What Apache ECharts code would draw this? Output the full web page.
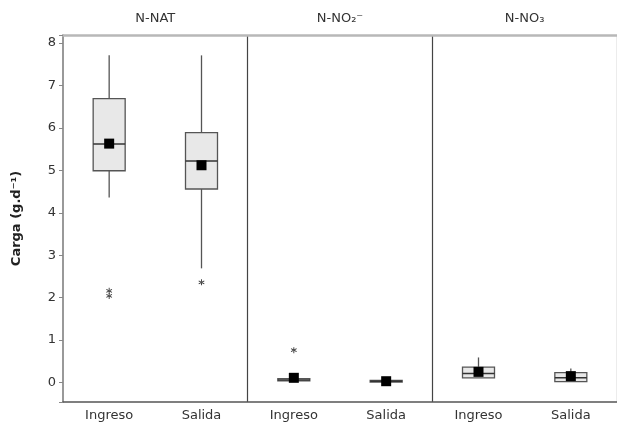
<!DOCTYPE html>
<html>
<head>
<meta charset="utf-8">
<script src="https://cdn.jsdelivr.net/npm/echarts@6/dist/echarts.min.js"></script>
<style>html,body{margin:0;padding:0;background:#fff}#c{width:617px;height:430px}</style>
</head>
<body>
<div id="c"></div>
<script>
// ---- data ----
var categories = ['Ingreso', 'Salida', 'Ingreso', 'Salida', 'Ingreso', 'Salida'];
var panels = ['N-NAT', 'N-NO\u2082\u207B', 'N-NO\u2083'];
var whiskerLow  = [4.36, 2.69, 0.02, 0.00, 0.11, 0.02];
var q1          = [4.99, 4.56, 0.04, 0.01, 0.11, 0.02];
var median      = [5.62, 5.22, 0.06, 0.03, 0.21, 0.11];
var q3          = [6.69, 5.89, 0.09, 0.05, 0.36, 0.23];
var whiskerHigh = [7.71, 7.71, 0.12, 0.07, 0.59, 0.33];
var means       = [5.63, 5.12, 0.11, 0.03, 0.25, 0.15];
var outlierCat  = [0, 0, 1, 2];
var outlierVal  = [2.04, 2.16, 2.36, 0.76];
var yTicks      = [0, 1, 2, 3, 4, 5, 6, 7, 8];

// ---- build ----
var boxData = categories.map(function (c, i) {
  return [i, whiskerLow[i], q1[i], median[i], q3[i], whiskerHigh[i]];
});
var meanData = categories.map(function (c, i) { return [i, means[i]]; });
var outData = outlierCat.map(function (c, i) { return [c, outlierVal[i]]; });

var asterisk = 'path://M4.3,0H5.7V10H4.3Z M1.02,1.89L9.68,6.89L8.98,8.11L0.32,3.11Z M1.02,8.11L9.68,3.11L8.98,1.89L0.32,6.89Z';
var font = 'DejaVu Sans';

var chart = echarts.init(document.getElementById('c'), null, {renderer: 'canvas'});
chart.setOption({
  animation: false,
  backgroundColor: '#fff',
  grid: {left: 63, right: -2, top: 35, bottom: 28},
  xAxis: [{
    type: 'category',
    data: categories,
    boundaryGap: true,
    position: 'bottom',
    axisLine: {onZero: false, lineStyle: {color: '#555', width: 1.5}},
    axisTick: {alignWithLabel: true, length: 4, lineStyle: {color: '#777'}},
    axisLabel: {color: '#333', fontFamily: font, fontSize: 13, margin: 7},
    splitLine: {
      show: true,
      interval: function (idx) { return idx === 2 || idx === 4; },
      lineStyle: {color: '#444', width: 1.2}
    }
  }, {
    type: 'category',
    data: panels,
    position: 'top',
    axisLine: {onZero: false, lineStyle: {color: '#b8b8b8', width: 2.5}},
    axisTick: {show: false},
    axisLabel: {color: '#333', fontFamily: font, fontSize: 13, margin: 10},
    splitLine: {show: false}
  }],
  yAxis: {
    type: 'value',
    min: -0.46,
    max: 8.19,
    splitNumber: 8,
    minInterval: 1,
    maxInterval: 1,
    name: 'Carga (g.d\u207B\u00B9)',
    nameLocation: 'middle',
    nameRotate: 90,
    nameGap: 40,
    nameTextStyle: {color: '#222', fontFamily: font, fontSize: 13, fontWeight: 'bold'},
    axisLine: {show: true, onZero: false, lineStyle: {color: '#777', width: 1.5}},
    axisTick: {show: true, length: 4, lineStyle: {color: '#888'}},
    axisLabel: {
      color: '#333', fontFamily: font, fontSize: 13, margin: 7,
      formatter: function (v) { return yTicks.indexOf(v) >= 0 ? String(v) : ''; }
    },
    splitLine: {show: false}
  },
  series: [{
    type: 'custom',
    xAxisIndex: 0,
    data: boxData,
    encode: {x: 0, y: [1, 2, 3, 4, 5]},
    renderItem: function (params, api) {
      var x = api.value(0);
      var pLo = api.coord([x, api.value(1)]);
      var pQ1 = api.coord([x, api.value(2)]);
      var pMed = api.coord([x, api.value(3)]);
      var pQ3 = api.coord([x, api.value(4)]);
      var pHi = api.coord([x, api.value(5)]);
      var hw = 16;
      var cx = pQ1[0];
      var st = {stroke: '#555', lineWidth: 1.3, fill: null};
      return {
        type: 'group',
        children: [
          {type: 'line', shape: {x1: cx, y1: pHi[1], x2: cx, y2: pQ3[1]}, style: st},
          {type: 'line', shape: {x1: cx, y1: pQ1[1], x2: cx, y2: pLo[1]}, style: st},
          {type: 'rect', shape: {x: cx - hw, y: pQ3[1], width: 2 * hw, height: Math.max(pQ1[1] - pQ3[1], 1)},
            style: {fill: '#e8e8e8', stroke: '#555', lineWidth: 1.3}},
          {type: 'line', shape: {x1: cx - hw, y1: pMed[1], x2: cx + hw, y2: pMed[1]}, style: {stroke: '#333', lineWidth: 1.5}}
        ]
      };
    }
  }, {
    type: 'scatter',
    data: meanData,
    symbol: 'rect',
    symbolSize: 10,
    itemStyle: {color: '#000', opacity: 1},
    z: 5
  }, {
    type: 'scatter',
    data: outData,
    symbol: asterisk,
    symbolSize: 6,
    itemStyle: {color: '#333', opacity: 1},
    z: 5
  }]
});
</script>
</body>
</html>
